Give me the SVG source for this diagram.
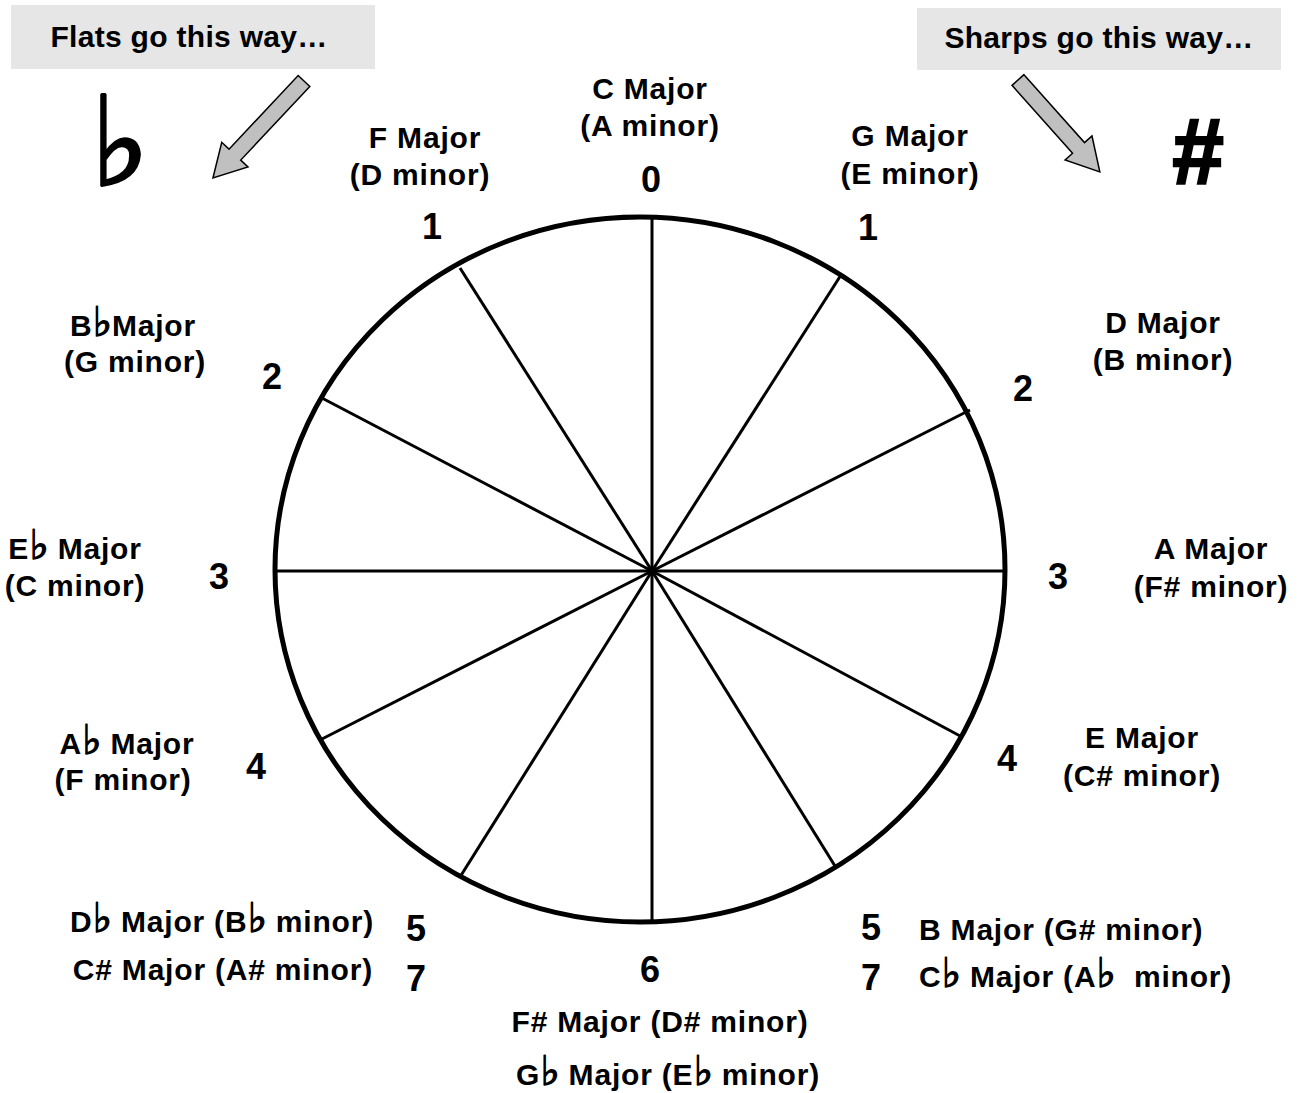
<svg xmlns="http://www.w3.org/2000/svg" width="1301" height="1093" viewBox="0 0 1301 1093">
<style>
text{font-family:"Liberation Sans",Arial,sans-serif;font-weight:bold;fill:#000}
.lab,.labl,.labr{font-size:30px;letter-spacing:0.8px}
.lab{text-anchor:middle}
.labl{text-anchor:start}
.labr{text-anchor:end}
.box-t{font-size:30px;letter-spacing:0.3px;text-anchor:middle}
.num{font-size:36px;text-anchor:middle}
.fl{font-family:"DejaVu Sans",sans-serif;font-weight:bold;font-size:41px;stroke:#000;stroke-width:1.3;letter-spacing:0}
.spoke{stroke:#000;stroke-width:3;fill:none}
.arrow{fill:#c0c0c0;stroke:#000;stroke-width:1.5;stroke-linejoin:miter}
.box{fill:#e6e6e6}
</style>
<rect width="1301" height="1093" fill="#fff"/>
<g id="flats-box">
<rect class="box" x="11" y="5" width="364" height="64"/>
<text class="box-t" x="189" y="47">Flats go this way…</text>
</g>
<g id="sharps-box">
<rect class="box" x="917" y="8" width="364" height="62"/>
<text class="box-t" x="1099" y="48">Sharps go this way…</text>
</g>
<g id="flat-symbol"><text x="120" y="185" style="font-family:'DejaVu Sans',sans-serif;font-weight:normal;font-size:124px;text-anchor:middle;stroke:#000;stroke-width:3">♭</text></g>
<g id="sharp-symbol"><text x="1198" y="183" style="font-size:92px;text-anchor:middle;stroke:#000;stroke-width:2.5">#</text></g>
<g id="arrows">
<polygon class="arrow" transform="translate(304,81) rotate(133.2)" points="0,-8 101,-8 101,-18 133,0 101,18 101,8 0,8"/>
<polygon class="arrow" transform="translate(1018,80) rotate(48.3)" points="0,-8 91,-8 91,-18 123,0 91,18 91,8 0,8"/>
</g>
<g id="wheel">
<ellipse cx="640" cy="569.5" rx="365" ry="352.5" fill="none" stroke="#000" stroke-width="5"/>
<g class="spoke">
<line x1="652" y1="571" x2="652" y2="217"/>
<line x1="652" y1="571" x2="841" y2="275"/>
<line x1="652" y1="571" x2="970" y2="410"/>
<line x1="652" y1="571" x2="1005" y2="571"/>
<line x1="652" y1="571" x2="962" y2="737"/>
<line x1="652" y1="571" x2="835" y2="866"/>
<line x1="652" y1="571" x2="652" y2="922"/>
<line x1="652" y1="571" x2="460" y2="877"/>
<line x1="652" y1="571" x2="320" y2="740"/>
<line x1="652" y1="571" x2="275" y2="571"/>
<line x1="652" y1="571" x2="320" y2="397"/>
<line x1="652" y1="571" x2="460" y2="268"/>
</g>
</g>
<g id="key-C">
<text class="lab" x="650" y="99">C Major</text>
<text class="lab" x="650" y="136">(A minor)</text>
<text class="num" x="651" y="192">0</text>
</g>
<g id="key-F">
<text class="lab" x="425" y="148">F Major</text>
<text class="lab" x="420" y="185">(D minor)</text>
<text class="num" x="432" y="239">1</text>
</g>
<g id="key-G">
<text class="lab" x="910" y="146">G Major</text>
<text class="lab" x="910" y="184">(E minor)</text>
<text class="num" x="868" y="240">1</text>
</g>
<g id="key-Bb">
<text class="lab" x="133" y="336">B<tspan class="fl">♭</tspan>Major</text>
<text class="lab" x="135" y="372">(G minor)</text>
<text class="num" x="272" y="389">2</text>
</g>
<g id="key-D">
<text class="lab" x="1163" y="333">D Major</text>
<text class="lab" x="1163" y="370">(B minor)</text>
<text class="num" x="1023" y="401">2</text>
</g>
<g id="key-Eb">
<text class="lab" x="75" y="559">E<tspan class="fl">♭</tspan> Major</text>
<text class="lab" x="75" y="596">(C minor)</text>
<text class="num" x="219" y="589">3</text>
</g>
<g id="key-A">
<text class="lab" x="1211" y="559">A Major</text>
<text class="lab" x="1211" y="597">(F# minor)</text>
<text class="num" x="1058" y="589">3</text>
</g>
<g id="key-Ab">
<text class="lab" x="127" y="754">A<tspan class="fl">♭</tspan> Major</text>
<text class="lab" x="123" y="790">(F minor)</text>
<text class="num" x="256" y="779">4</text>
</g>
<g id="key-E">
<text class="lab" x="1142" y="748">E Major</text>
<text class="lab" x="1142" y="786">(C# minor)</text>
<text class="num" x="1007" y="771">4</text>
</g>
<g id="key-Db">
<text class="labr" x="374" y="932">D<tspan class="fl">♭</tspan> Major (B<tspan class="fl">♭</tspan> minor)</text>
<text class="labr" x="373" y="980">C# Major (A# minor)</text>
<text class="num" x="416" y="941">5</text>
<text class="num" x="416" y="991">7</text>
</g>
<g id="key-B">
<text class="num" x="871" y="940">5</text>
<text class="num" x="871" y="990">7</text>
<text class="labl" x="919" y="940">B Major (G# minor)</text>
<text class="labl" x="919" y="987">C<tspan class="fl">♭</tspan> Major (A<tspan class="fl">♭</tspan>&#160; minor)</text>
</g>
<g id="key-Fs">
<text class="num" x="650" y="982">6</text>
<text class="lab" x="660" y="1032">F# Major (D# minor)</text>
<text class="lab" x="668" y="1085">G<tspan class="fl">♭</tspan> Major (E<tspan class="fl">♭</tspan> minor)</text>
</g>
</svg>
